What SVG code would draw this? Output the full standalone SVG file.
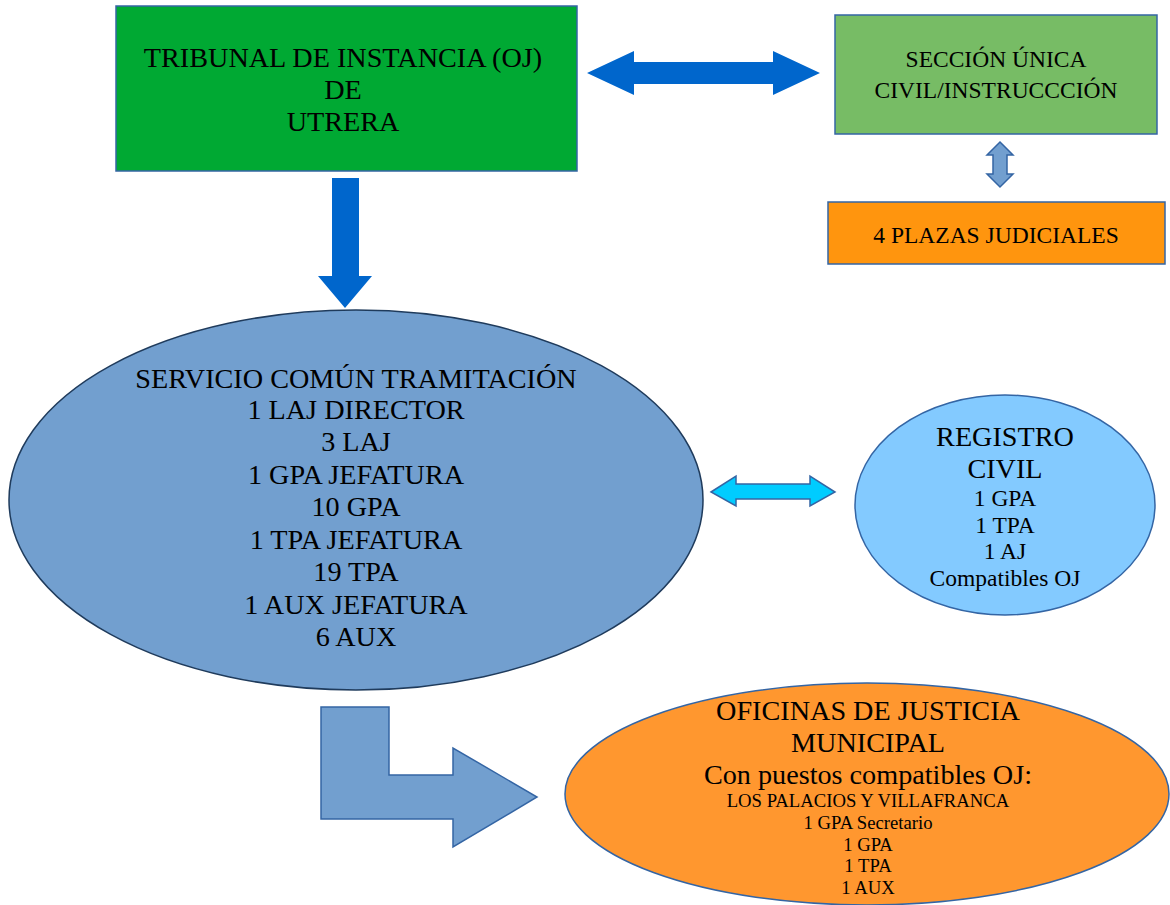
<svg xmlns="http://www.w3.org/2000/svg" width="1170" height="905" viewBox="0 0 1170 905">
<style>
text{font-family:"Liberation Serif","Times New Roman",serif;fill:#000;text-anchor:middle}
.l{font-size:28.2px}
.m{font-size:23.5px}
.s{font-size:18.7px}
.bd{stroke:#3465A4;stroke-width:1.5}
</style>
<rect width="1170" height="905" fill="#fff"/>
<g id="connectors">
<polygon points="587,73 634,51 634,62 773,62 773,51 820,73 773,95 773,84 634,84 634,95" fill="#0066CC"/>
<polygon points="1000,142 1013,155 1007,155 1007,174 1013,174 1000,187 987,174 993,174 993,155 987,155" fill="#729FCF" class="bd" stroke-width="1"/>
<polygon points="332,178 359,178 359,276 372,276 345,308 318,276 332,276" fill="#0066CC"/>
<polygon points="711,492 736,476 736,484 810,484 810,476 835,492 810,506 810,499 736,499 736,506" fill="#00CCFF" class="bd"/>
<polygon points="321,707 389,707 389,775 453,775 453,748 537,797 453,847 453,819 321,819" fill="#729FCF" class="bd"/>
</g>
<g id="tribunal">
<rect x="116" y="6" width="461" height="165" fill="#00A933" class="bd"/>
<text class="l" x="343" y="67">TRIBUNAL DE INSTANCIA (OJ)</text>
<text class="l" x="343" y="99">DE</text>
<text class="l" x="343" y="131">UTRERA</text>
</g>
<g id="seccion">
<rect x="835" y="15" width="322" height="119" fill="#77BC65" class="bd"/>
<text class="m" x="996" y="67">SECCIÓN ÚNICA</text>
<text class="m" x="996" y="98">CIVIL/INSTRUCCCIÓN</text>
</g>
<g id="plazas">
<rect x="828" y="202" width="337" height="62" fill="#FF950E" class="bd"/>
<text class="m" x="996" y="243">4 PLAZAS JUDICIALES</text>
</g>
<g id="servicio">
<ellipse cx="356" cy="500" rx="347" ry="190" fill="#729FCF" stroke="#1F3B5C" stroke-width="1.5"/>
<text class="l" x="356" y="388">SERVICIO COMÚN TRAMITACIÓN</text>
<text class="l" x="356" y="419">1 LAJ DIRECTOR</text>
<text class="l" x="356" y="451">3 LAJ</text>
<text class="l" x="356" y="484">1 GPA JEFATURA</text>
<text class="l" x="356" y="516">10 GPA</text>
<text class="l" x="356" y="549">1 TPA JEFATURA</text>
<text class="l" x="356" y="581">19 TPA</text>
<text class="l" x="356" y="614">1 AUX JEFATURA</text>
<text class="l" x="356" y="646">6 AUX</text>
</g>
<g id="registro">
<ellipse cx="1005" cy="505" rx="150" ry="110" fill="#83CAFF" class="bd"/>
<text class="l" x="1005" y="446">REGISTRO</text>
<text class="l" x="1005" y="478">CIVIL</text>
<text class="m" x="1005" y="506">1 GPA</text>
<text class="m" x="1005" y="533">1 TPA</text>
<text class="m" x="1005" y="559">1 AJ</text>
<text class="m" x="1005" y="586">Compatibles OJ</text>
</g>
<g id="oficinas">
<ellipse cx="867" cy="794" rx="302" ry="111" fill="#FF972F" class="bd"/>
<text class="l" x="868" y="720">OFICINAS DE JUSTICIA</text>
<text class="l" x="868" y="752">MUNICIPAL</text>
<text class="l" x="868" y="784">Con puestos compatibles OJ:</text>
<text class="s" x="868" y="807">LOS PALACIOS Y VILLAFRANCA</text>
<text class="s" x="868" y="829">1 GPA Secretario</text>
<text class="s" x="868" y="851">1 GPA</text>
<text class="s" x="868" y="872">1 TPA</text>
<text class="s" x="868" y="894">1 AUX</text>
</g>
</svg>
